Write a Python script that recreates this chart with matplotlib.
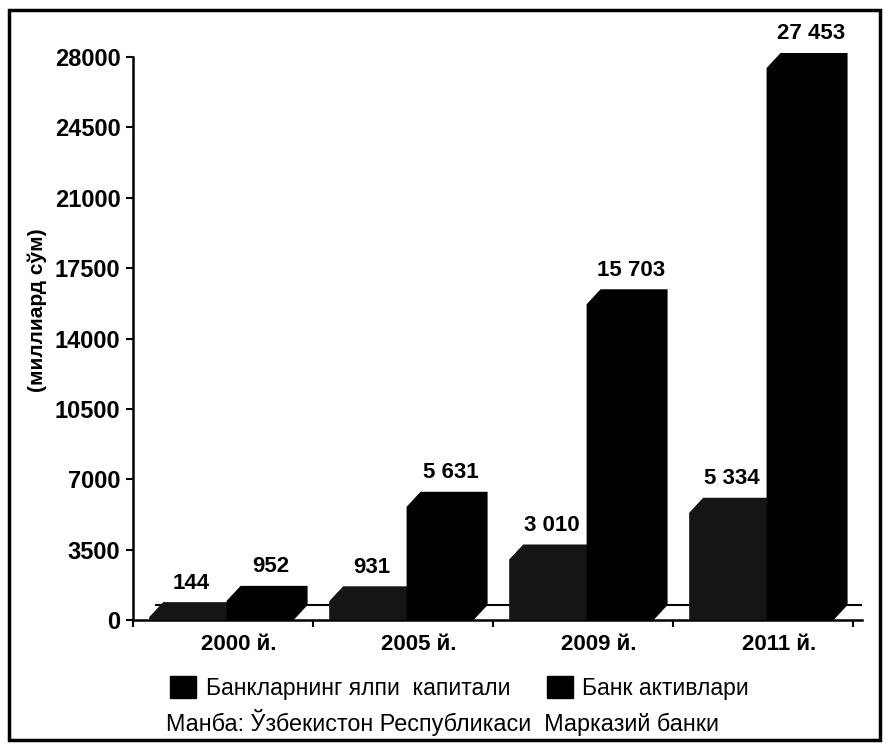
import matplotlib.pyplot as plt
from matplotlib.patches import Patch, Rectangle, Polygon
from matplotlib.transforms import IdentityTransform, offset_copy
import numpy as np

plt.rcParams['font.family'] = ['Liberation Sans', 'DejaVu Sans']

years = ['2000 й.', '2005 й.', '2009 й.', '2011 й.']
capital = [144, 931, 3010, 5334]
assets = [952, 5631, 15703, 27453]
capital_labels = ['144', '931', '3 010', '5 334']
assets_labels = ['952', '5 631', '15 703', '27 453']
yticks = [0, 3500, 7000, 10500, 14000, 17500, 21000, 24500, 28000]

fig = plt.figure(figsize=(8.89, 7.5), dpi=100)
ax = fig.add_axes([0.1496, 0.1733, 0.820, 0.7507])
ax.set_xlim(-0.5, 3.55)
ax.set_ylim(0, 28000)

x = np.arange(len(years))
DX, DY = 14, 15  # depth of the pseudo-3D bars, pixels


def bar3d(a, b, v, color, z):
    # silhouette of a box: front face + top + right side, depth going up-right
    x0, y0 = ax.transData.transform((a, 0))
    x1, y1 = ax.transData.transform((b, v))
    verts = [(x0, y0), (x0, y1), (x0 + DX, y1 + DY), (x1, y1 + DY),
             (x1, y0 + DY), (x1 - DX, y0)]
    ax.add_patch(Polygon(verts, closed=True, transform=IdentityTransform(),
                         facecolor=color, edgecolor='none', clip_on=False, zorder=z))


# back edge of the floor
ax.plot([-0.45, 3.55], [0, 0], color='black', lw=1.5, zorder=1,
        transform=offset_copy(ax.transData, fig, x=DX, y=DY, units='dots'))

for i in range(len(years)):
    bar3d(x[i] - 0.41, x[i] + 0.10, capital[i], '#151515', 3)
    bar3d(x[i] + 0.02, x[i] + 0.47, assets[i], 'black', 4)
    ax.annotate(capital_labels[i], (x[i] - 0.175, capital[i]), xytext=(0, 24.5),
                textcoords='offset points', ha='center', va='center',
                fontsize=16, fontweight='bold', annotation_clip=False)
    ax.annotate(assets_labels[i], (x[i] + 0.265, assets[i]), xytext=(0, 24.5),
                textcoords='offset points', ha='center', va='center',
                fontsize=16, fontweight='bold', annotation_clip=False)

ax.set_yticks(yticks)
ax.set_yticklabels([str(v) for v in yticks], fontsize=17, fontweight='bold')
ax.set_xticks([-0.5, 0.5, 1.5, 2.5, 3.5])
ax.set_xticklabels([])
ax.set_xticks(x + 0.09, minor=True)
ax.set_xticklabels(years, minor=True, fontsize=16, fontweight='bold')
ax.tick_params(axis='x', which='minor', length=0, pad=10)
ax.tick_params(axis='both', which='major', direction='out', width=1.5, length=5, pad=4)
ax.set_ylabel('(миллиард сўм)', fontsize=15, fontweight='bold')
ax.yaxis.set_label_coords(-0.118, 0.55)

for s in ['top', 'right']:
    ax.spines[s].set_visible(False)
for s in ['left', 'bottom']:
    ax.spines[s].set_linewidth(1.8)

handles = [Patch(facecolor='black', edgecolor='black'), Patch(facecolor='black', edgecolor='black')]
fig.legend(handles, ['Банкларнинг ялпи  капитали', 'Банк активлари'], loc='center',
           bbox_to_anchor=(0.517, 0.083), ncol=2, frameon=False, fontsize=16.5,
           handlelength=1.15, handleheight=1.15, columnspacing=1.6, handletextpad=0.4)
fig.text(0.498, 0.037, 'Манба: Ўзбекистон Республикаси  Марказий банки', ha='center',
         va='center', fontsize=16.8)

# outer frame
fig.patches.append(Rectangle((0.01, 0.013), 0.98, 0.974, transform=fig.transFigure,
                             fill=False, edgecolor='black', linewidth=2.5))

fig.savefig('out.png', dpi=100)
